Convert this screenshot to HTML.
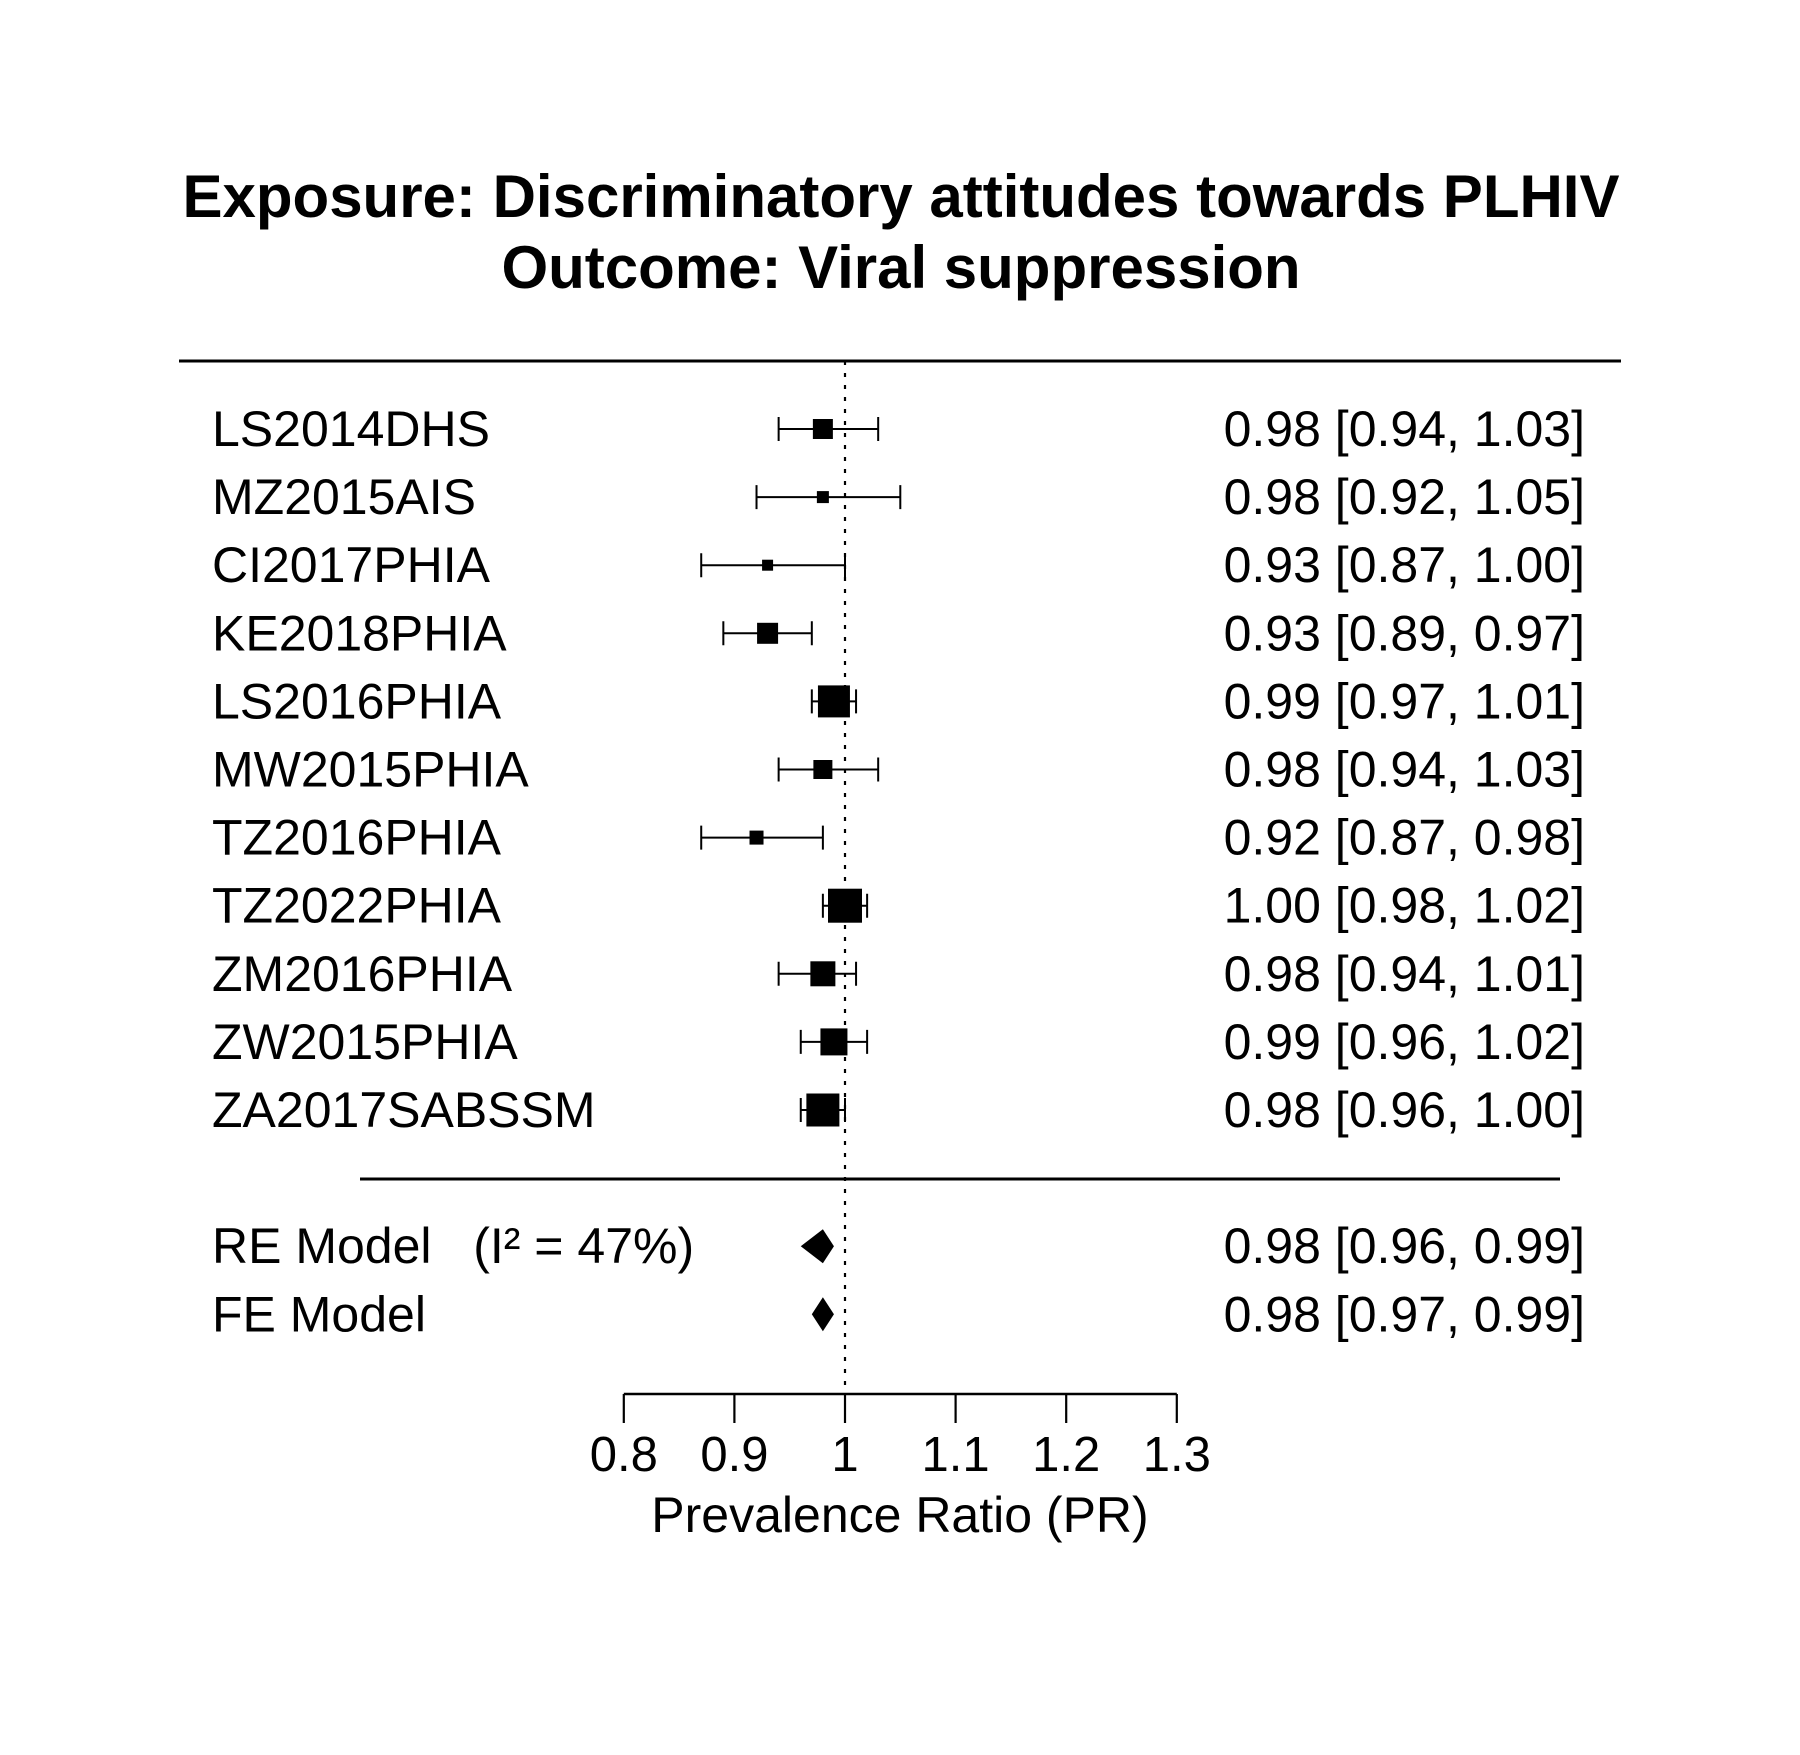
<!DOCTYPE html>
<html><head><meta charset="utf-8"><style>
html,body{margin:0;padding:0;background:#fff;}
svg{display:block;font-family:"Liberation Sans",Arial,sans-serif;}
</style></head><body>
<svg id="plot" width="1800" height="1755" viewBox="0 0 1800 1755" xmlns="http://www.w3.org/2000/svg">
<rect width="1800" height="1755" fill="#fff"/>
<text x="901" y="217" font-size="60" font-weight="bold" text-anchor="middle">Exposure: Discriminatory attitudes towards PLHIV</text>
<text x="901" y="288" font-size="60" font-weight="bold" text-anchor="middle">Outcome: Viral suppression</text>
<line x1="179" y1="361" x2="1621" y2="361" stroke="#000" stroke-width="3"/>
<line x1="360" y1="1179" x2="1560" y2="1179" stroke="#000" stroke-width="3"/>
<g id="marks"></g>
</svg>
<script>
const studies = ["LS2014DHS","MZ2015AIS","CI2017PHIA","KE2018PHIA","LS2016PHIA","MW2015PHIA","TZ2016PHIA","TZ2022PHIA","ZM2016PHIA","ZW2015PHIA","ZA2017SABSSM"];
const est   = [0.98,0.98,0.93,0.93,0.99,0.98,0.92,1.00,0.98,0.99,0.98];
const lower = [0.94,0.92,0.87,0.89,0.97,0.94,0.87,0.98,0.94,0.96,0.96];
const upper = [1.03,1.05,1.00,0.97,1.01,1.03,0.98,1.02,1.01,1.02,1.00];
const estLabels = ["0.98 [0.94, 1.03]","0.98 [0.92, 1.05]","0.93 [0.87, 1.00]","0.93 [0.89, 0.97]","0.99 [0.97, 1.01]","0.98 [0.94, 1.03]","0.92 [0.87, 0.98]","1.00 [0.98, 1.02]","0.98 [0.94, 1.01]","0.99 [0.96, 1.02]","0.98 [0.96, 1.00]"];
const weights = [20,12,11,21,32,19,14,34,25,27,33];
const models = ["RE Model   (I\u00B2 = 47%)","FE Model"];
const modelEst = [0.98,0.98];
const modelLower = [0.96,0.97];
const modelUpper = [0.99,0.99];
const modelLabels = ["0.98 [0.96, 0.99]","0.98 [0.97, 0.99]"];
const ticks = [0.8,0.9,1,1.1,1.2,1.3];
const tickLabels = ["0.8","0.9","1","1.1","1.2","1.3"];

const NS = "http://www.w3.org/2000/svg";
const g = document.getElementById('marks');
const xs = v => 845 + (v - 1) * 1106;
const ys = i => 429 + i * 68.1;
function mk(tag, attrs, parent) {
  const e = document.createElementNS(NS, tag);
  for (const k in attrs) e.setAttribute(k, attrs[k]);
  (parent || g).appendChild(e);
  return e;
}
const ref = mk('line', {x1: xs(1), x2: xs(1), y1: 361, y2: 1394, stroke: '#000', 'stroke-width': 2.2, 'stroke-dasharray': '4 8'});



studies.forEach((s, i) => {
  const y = ys(i);
  const lab = mk('text', {x: 212, y: y + 17, 'font-size': 50});
  lab.textContent = s;
  
  
  const ci = mk('path', {d: `M${xs(lower[i])},${y}H${xs(upper[i])}M${xs(lower[i])},${y-12}V${y+12}M${xs(upper[i])},${y-12}V${y+12}`, stroke: '#000', 'stroke-width': 2, fill: 'none'});
  
  
  const w = weights[i];
  const sq = mk('rect', {x: xs(est[i]) - w / 2, y: y - w / 2, width: w, height: w, fill: '#000'});
  
  
  const r = mk('text', {x: 1585, y: y + 17, 'font-size': 50, 'text-anchor': 'end'});
  r.textContent = estLabels[i];
  
  
});

models.forEach((m, j) => {
  const y = ys(studies.length + 1 + j);
  const lab = mk('text', {x: 212, y: y + 17, 'font-size': 50});
  lab.setAttribute('style', 'white-space:pre');
  lab.textContent = m;
  
  
  const d = mk('polygon', {points: `${xs(modelLower[j])},${y} ${xs(modelEst[j])},${y-17} ${xs(modelUpper[j])},${y} ${xs(modelEst[j])},${y+17}`, fill: '#000'});
  
  
  const r = mk('text', {x: 1585, y: y + 17, 'font-size': 50, 'text-anchor': 'end'});
  r.textContent = modelLabels[j];
  
  
});

const ax = mk('line', {x1: xs(ticks[0]), x2: xs(ticks[ticks.length - 1]), y1: 1394, y2: 1394, stroke: '#000', 'stroke-width': 2.5});


ticks.forEach((t, k) => {
  const tl = mk('line', {x1: xs(t), x2: xs(t), y1: 1394, y2: 1423, stroke: '#000', 'stroke-width': 2.2});
  
  
  const tt = mk('text', {x: xs(t), y: 1471, 'font-size': 49, 'text-anchor': 'middle'});
  tt.textContent = tickLabels[k];
  
  
});
const xt = mk('text', {x: 900, y: 1532, 'font-size': 50, 'text-anchor': 'middle'});
xt.textContent = 'Prevalence Ratio (PR)';


</script>
</body></html>
